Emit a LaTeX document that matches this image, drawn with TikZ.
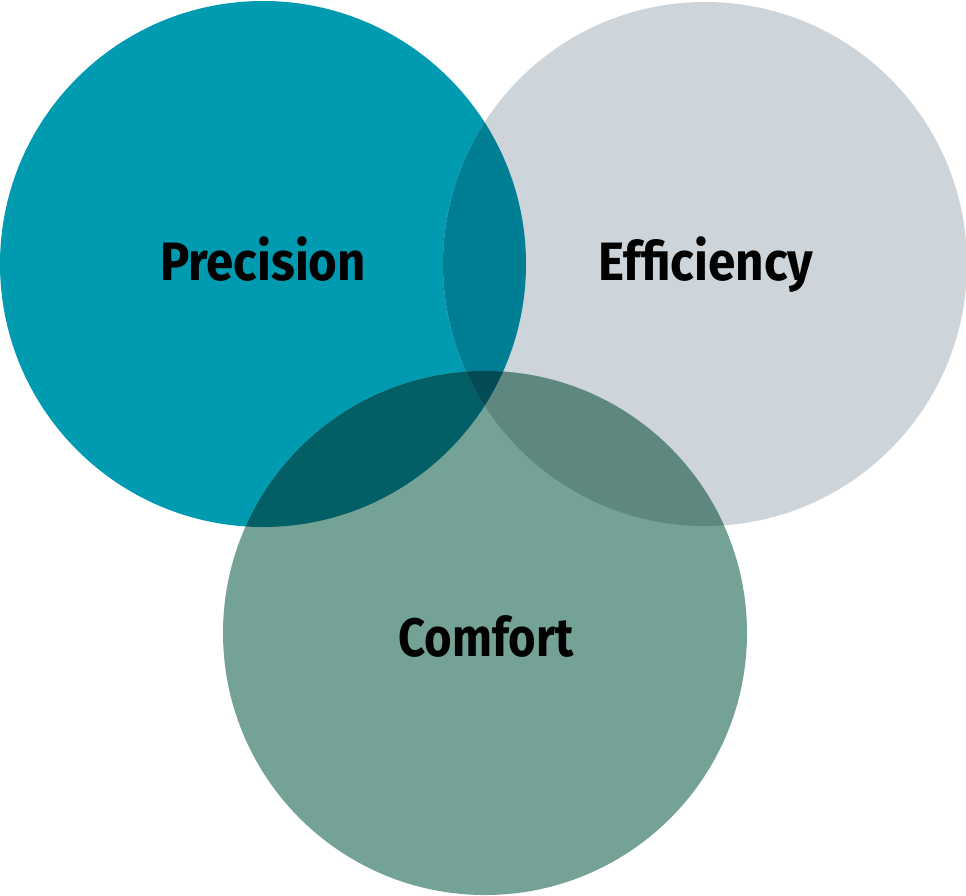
\documentclass[tikz,border=0pt]{standalone}
\usepackage{fontspec}
\setmainfont{Fira Sans}
\definecolor{cP}{HTML}{009AB1}
\definecolor{cE}{HTML}{CDD4DA}
\definecolor{cC}{HTML}{75A296}
\definecolor{cPE}{HTML}{007F94}
\definecolor{cPC}{HTML}{035F66}
\definecolor{cEC}{HTML}{5E8780}
\definecolor{cPEC}{HTML}{034B55}
\tikzset{lbl/.style={anchor=base,inner sep=0pt,text=black,font=\fontsize{54}{60}\selectfont\bfseries}}
\begin{document}
\begin{tikzpicture}[x=1pt,y=-1pt]
\useasboundingbox (0,0) rectangle (966,895);
\coordinate (P) at (263,264);
\coordinate (E) at (705,264);
\coordinate (C) at (485,633);
\fill[cP] (P) circle (263);
\fill[cE] (E) circle (262);
\fill[cC] (C) circle (262);
\begin{scope}
\clip (P) circle (263);
\fill[cPE] (E) circle (262);
\fill[cPC] (C) circle (262);
\end{scope}
\begin{scope}
\clip (E) circle (262);
\clip (C) circle (262);
\fill[cEC] (P) ++(-300,-300) rectangle ++(1000,1000);
\end{scope}
\begin{scope}
\clip (P) circle (263);
\clip (E) circle (262);
\fill[cPEC] (C) circle (262);
\end{scope}
\node[lbl] (tP) at (263,280) {\scalebox{0.91}[1]{Precision}};
\node[lbl] (tE) at (706,280) {\scalebox{0.915}[1]{Efficiency}};
\node[lbl] (tC) at (486,656) {\scalebox{0.875}[1]{Comfort}};
\end{tikzpicture}
\end{document}
